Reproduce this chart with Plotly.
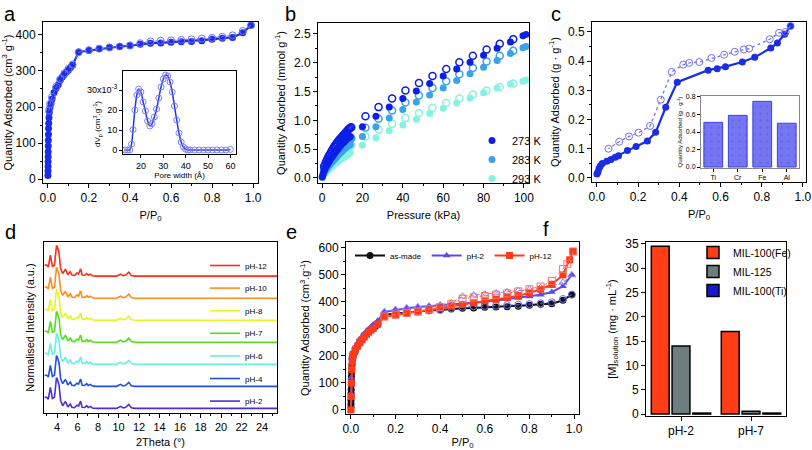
import plotly.graph_objects as go

W, H = 812, 450
FONT = "Arial"

# ---------------- data ----------------
# (a) N2 isotherm, MIL-100(Fe) as-made
a_ads_p = [0.0002,0.0004,0.0006,0.0008,0.001,0.0013,0.0016,0.002,0.0025,0.003,0.004,0.005,0.007,0.01,0.015,
           0.02,0.03,0.04,0.05,0.06,0.07,0.08,0.09,0.10,0.11,0.12,0.15,0.20,0.25,0.30,0.35,0.40,0.45,0.50,
           0.55,0.60,0.65,0.70,0.75,0.80,0.85,0.90,0.95,0.99]
a_ads_q = [10,22,35,48,62,76,92,108,124,140,155,170,185,198,210,222,240,252,262,274,283,290,297,303,310,
           316,353,357,362,366,368,370,374,377,378,380,381,382,384,388,391,393,406,427]
a_des_p = [0.99,0.95,0.90,0.85,0.80,0.75,0.70,0.65,0.60,0.55,0.50,0.45,0.40,0.35,0.30,0.25,0.20,0.15,0.12,
           0.10,0.08,0.06,0.04,0.02,0.01,0.005]
a_des_q = [427,411,399,395,392,390,388,386,385,384,382,377,371,368,365,362,358,352,318,306,293,277,256,228,208,190]
# (a) inset pore size distribution (x1e-3)
psd_w = [13,14,15,15.8,16.5,17.3,18.2,19,20,21,22,23,24,25,26,27,28,29,30,31,32,33,34,35,36,37,38,39,40,41,
         42,44,46,48,50,52,54,56,58,60]
psd_v = [0,0,0,2.9,10.2,20,27.5,30.5,29,24,19.5,14.5,12,13.2,16.5,20.5,26,31.5,35.5,37.5,37,34,29,22,15,
         8.5,4,1.5,0.4,0,0,0,0,0,0,0,0,0,0,0.3]

# (b) CO2 isotherms
b_ads_p = [0.1,0.5,1,1.5,2,2.5,3,3.5,4,4.5,5,5.5,6,6.5,7,7.5,8,8.5,9,9.5,10,10.5,11,11.5,12,12.5,13,13.5,14,
           20,26.7,33.3,40,46.7,53.3,60,66.7,73.3,80,86.7,93.3,99.5,101]
b_des_p = [1,1.5,2,2.5,3,3.5,4,4.5,5,5.5,6,6.5,7,7.5,8,8.5,9,9.5,10,10.5,11,11.5,12,12.5,13,13.5,14,14.5,
           21.5,28,34.7,41.3,48,54.7,61.5,68,74.7,81.5,88,94.7]
b273_ads = [0.02,0.07,0.12,0.16,0.2,0.23,0.26,0.29,0.32,0.345,0.37,0.395,0.42,0.445,0.47,0.49,0.51,0.535,0.56,
            0.58,0.6,0.615,0.63,0.65,0.67,0.685,0.70,0.71,0.72,
            0.89,1.07,1.23,1.38,1.51,1.64,1.77,1.89,2.01,2.13,2.25,2.36,2.47,2.49]
b273_des = [0.2,0.24,0.28,0.32,0.36,0.39,0.42,0.45,0.48,0.51,0.54,0.565,0.59,0.615,0.64,0.66,0.68,0.70,0.72,
            0.74,0.76,0.78,0.80,0.82,0.84,0.855,0.87,0.88,
            1.07,1.23,1.38,1.52,1.65,1.77,1.89,2.01,2.12,2.23,2.33,2.41]
b283_ads = [0.01,0.05,0.09,0.12,0.15,0.17,0.2,0.22,0.24,0.26,0.28,0.30,0.32,0.34,0.36,0.38,0.40,0.42,0.44,
            0.45,0.47,0.49,0.50,0.52,0.53,0.55,0.56,0.57,0.58,
            0.72,0.89,1.04,1.19,1.32,1.44,1.56,1.69,1.81,1.92,2.04,2.16,2.26,2.28]
b283_des = [0.14,0.17,0.2,0.23,0.26,0.28,0.31,0.33,0.36,0.38,0.40,0.42,0.44,0.46,0.48,0.50,0.52,0.54,0.56,
            0.58,0.59,0.61,0.62,0.64,0.65,0.67,0.68,0.69,
            0.87,1.03,1.17,1.31,1.43,1.56,1.68,1.80,1.91,2.02,2.12,2.21]
b293_ads = [0.005,0.03,0.06,0.08,0.10,0.12,0.14,0.16,0.17,0.19,0.20,0.22,0.23,0.25,0.26,0.28,0.29,0.30,0.32,
            0.33,0.34,0.35,0.36,0.37,0.39,0.40,0.41,0.43,0.44,
            0.57,0.70,0.82,0.92,1.02,1.12,1.21,1.30,1.39,1.48,1.56,1.63,1.68,1.70]
b293_des = [0.1,0.13,0.15,0.17,0.19,0.21,0.23,0.25,0.27,0.29,0.31,0.33,0.35,0.36,0.38,0.40,0.42,0.43,0.45,
            0.46,0.48,0.49,0.51,0.52,0.54,0.55,0.56,0.57,
            0.72,0.84,0.94,1.04,1.13,1.22,1.30,1.38,1.45,1.52,1.58,1.64]
b_labels = ["273 K", "283 K", "293 K"]
b_colors = ["#0b1fe6", "#3aa2ea", "#86f2e2"]

# (c) water isotherm
c_ads_p = [0.0,0.005,0.01,0.016,0.026,0.048,0.068,0.089,0.105,0.148,0.19,0.245,0.285,0.334,0.39,0.54,0.584,
           0.624,0.706,0.766,0.844,0.876,0.911,0.94]
c_ads_q = [0.013,0.02,0.032,0.041,0.049,0.057,0.063,0.071,0.076,0.094,0.108,0.126,0.156,0.242,0.328,0.369,
           0.374,0.381,0.397,0.413,0.445,0.462,0.492,0.52]
c_des_p = [0.94,0.916,0.884,0.839,0.739,0.713,0.669,0.618,0.556,0.497,0.448,0.419,0.363,0.31,0.258,0.202,
           0.156,0.108,0.056]
c_des_q = [0.52,0.50,0.497,0.475,0.443,0.44,0.432,0.422,0.411,0.397,0.394,0.388,0.363,0.268,0.178,0.155,
           0.142,0.124,0.10]
c_metals = ["Ti", "Cr", "Fe", "Al"]
c_uptake = [0.51, 0.59, 0.75, 0.50]

# (d) PXRD
pxrd_2theta = [2.8,3.0,3.15,3.35,3.55,3.75,3.95,4.05,4.2,4.35,4.55,4.8,4.9,5.05,5.3,5.45,5.7,5.95,6.1,6.3,
               6.45,6.7,6.9,7.05,7.25,7.45,7.8,9.8,10.2,10.45,10.7,11.0,11.25,11.6,16.0,20.0,25.5]
pxrd_profile = [0.5,0.5,0.42,0.95,0.45,0.5,1.4,1.3,1.05,0.35,0.12,0.3,0.25,0.06,0.2,0.05,0.03,0.14,0.1,0.33,
                0.05,0.04,0.12,0.04,0.09,0.02,0.0,0.0,0.09,0.02,0.05,0.18,0.03,0.0,0.0,0.01,0.0]
pxrd_labels = ["pH-2", "pH-4", "pH-6", "pH-7", "pH-8", "pH-10", "pH-12"]
pxrd_offsets = [0, 1, 2, 3, 4, 5, 6]
pxrd_colors = ["#4a2fd8", "#1f4ee8", "#62f2e0", "#4fe01c", "#e6f51c", "#ff8c1c", "#ff2b18"]

# (e) N2 isotherms after pH treatment
e2_ads_p = [0.0,0.001,0.002,0.004,0.006,0.008,0.01,0.02,0.03,0.04,0.05,0.06,0.07,0.08,0.09,0.10,0.12,0.15,0.20,
            0.25,0.30,0.35,0.40,0.45,0.50,0.55,0.60,0.65,0.70,0.75,0.80,0.85,0.90,0.95,0.99]
e2_ads_q = [0,60,120,170,195,205,212,230,245,258,270,282,292,300,308,316,330,363,371,377,381,384,387,390,393,
            397,401,405,410,415,420,427,437,458,500]
e2_des_p = [0.99,0.95,0.90,0.85,0.80,0.75,0.70,0.65,0.60,0.55,0.50,0.45,0.40,0.35,0.30,0.25,0.20,0.15]
e2_des_q = [500,472,460,453,447,442,437,433,429,425,421,396,389,385,382,378,372,364]
e12_ads_p = [0.0,0.001,0.002,0.004,0.006,0.008,0.01,0.02,0.03,0.04,0.05,0.06,0.07,0.08,0.09,0.10,0.12,0.15,0.20,
             0.25,0.30,0.35,0.40,0.45,0.50,0.55,0.60,0.65,0.70,0.75,0.80,0.85,0.90,0.95,0.98,0.995]
e12_ads_q = [0,50,100,150,180,195,205,222,236,249,260,270,280,288,296,302,318,345,352,358,363,370,377,384,390,
             397,404,410,416,423,433,447,465,500,556,587]
e12_des_p = [0.995,0.97,0.95,0.90,0.85,0.80,0.75,0.70,0.65,0.60,0.55,0.50,0.45,0.40,0.35,0.30,0.25,0.20,0.15]
e12_des_q = [587,540,522,478,457,447,439,432,427,422,417,412,393,381,373,365,359,353,346]

# (f) metal leaching
f_conditions = ["pH-2", "pH-7"]
f_series = ["MIL-100(Fe)", "MIL-125", "MIL-100(Ti)"]
f_values = [[34.5, 17.0], [14.0, 0.6], [0.2, 0.2]]
f_colors = ["#ff3d17", "#6e7e80", "#1a1acc"]

# ---------------- layout helpers ----------------
def dx(l, r):
    return [l / W, r / W]

def dy(t, b):
    return [1 - b / H, 1 - t / H]

def ax(domain, rng, anchor, **kw):
    d = dict(domain=domain, range=rng, anchor=anchor, showline=True, linecolor="black", linewidth=1,
             mirror=True, ticks="outside", ticklen=4, tickwidth=1, tickcolor="black", showgrid=False,
             zeroline=False, automargin=False, tickfont=dict(family=FONT, size=12, color="black"),
             title=dict(font=dict(family=FONT, size=11, color="black")))
    for k, v in kw.items():
        if k == "title":
            d["title"].update(v)
        elif k == "tickfont":
            d["tickfont"].update(v)
        else:
            d[k] = v
    return d

fig = go.Figure()
BLUE = "#1b2de6"
BLUE_L = "#6f70f2"

# (a)
fig.add_trace(go.Scatter(x=a_ads_p, y=a_ads_q, mode="lines+markers", xaxis="x", yaxis="y", showlegend=False,
                         line=dict(color=BLUE, width=2.2), marker=dict(color=BLUE, size=7)))
fig.add_trace(go.Scatter(x=a_des_p, y=a_des_q, mode="lines+markers", xaxis="x", yaxis="y", showlegend=False,
                         line=dict(color=BLUE_L, width=1, dash="dot"),
                         marker=dict(symbol="circle-open", color=BLUE_L, size=7, line=dict(width=1))))
fig.add_trace(go.Scatter(x=psd_w, y=psd_v, mode="lines+markers", xaxis="x2", yaxis="y2", showlegend=False,
                         line=dict(color="#2136e6", width=1.5, shape="spline"),
                         marker=dict(symbol="circle-open", color="#7d80f2", size=6, line=dict(width=1))))

# (b)
b_ads = [b273_ads, b283_ads, b293_ads]
b_des = [b273_des, b283_des, b293_des]
for i in [2, 1, 0]:
    fig.add_trace(go.Scatter(x=b_des_p, y=b_des[i], mode="markers", xaxis="x3", yaxis="y3", showlegend=False,
                             marker=dict(symbol="circle-open", color=b_colors[i], size=7, line=dict(width=1.5))))
for i in [2, 1, 0]:
    fig.add_trace(go.Scatter(x=b_ads_p, y=b_ads[i], mode="markers", xaxis="x3", yaxis="y3", name=b_labels[i],
                             legend="legend", legendrank=i + 1,
                             marker=dict(color=b_colors[i], size=7, line=dict(width=0))))

# (c)
fig.add_trace(go.Scatter(x=c_ads_p, y=c_ads_q, mode="lines+markers", xaxis="x4", yaxis="y4", showlegend=False,
                         line=dict(color=BLUE, width=2.2), marker=dict(color=BLUE, size=7)))
fig.add_trace(go.Scatter(x=c_des_p, y=c_des_q, mode="lines+markers", xaxis="x4", yaxis="y4", showlegend=False,
                         line=dict(color=BLUE_L, width=1.3, dash="dot"),
                         marker=dict(symbol="circle-open", color=BLUE_L, size=7, line=dict(width=1))))
fig.add_trace(go.Bar(x=c_metals, y=c_uptake, xaxis="x5", yaxis="y5", showlegend=False,
                     marker=dict(color="#7676f2", line=dict(color="#3f3fe0", width=1),
                                 pattern=dict(shape=".", fgcolor="#5656dc", size=7, solidity=0.1,
                                              fillmode="overlay"))))

# (d)
for lab, off, col in zip(pxrd_labels, pxrd_offsets, pxrd_colors):
    fig.add_trace(go.Scatter(x=pxrd_2theta, y=[v + off for v in pxrd_profile], mode="lines",
                             xaxis="x6", yaxis="y6", name=lab, legend="legend4", legendgroup=lab,
                             legendrank=100 - off, line=dict(color=col, width=1.6)))

# (e)
e_sets = [
    ("as-made", a_ads_p, a_ads_q, a_des_p, a_des_q, "#111111", "circle", BLUE_L, "circle-open"),
    ("pH-2", e2_ads_p, e2_ads_q, e2_des_p, e2_des_q, "#5a4ae8", "triangle-up", "#8a80f0", "triangle-up-open"),
    ("pH-12", e12_ads_p, e12_ads_q, e12_des_p, e12_des_q, "#ff3a1c", "square", "#ff7058", "square-open"),
]
for name, ap, aq, dp, dq, col, sym, dcol, dsym in e_sets:
    fig.add_trace(go.Scatter(x=ap, y=aq, mode="lines+markers", xaxis="x7", yaxis="y7", name=name,
                             legend="legend2", line=dict(color=col, width=2),
                             marker=dict(color=col, symbol=sym, size=7)))
    fig.add_trace(go.Scatter(x=dp, y=dq, mode="lines+markers", xaxis="x7", yaxis="y7", showlegend=False,
                             line=dict(color=dcol, width=1, dash="dot"),
                             marker=dict(color=dcol, symbol=dsym, size=7, line=dict(width=1))))

# (f)
for name, vals, col in zip(f_series, f_values, f_colors):
    fig.add_trace(go.Bar(x=f_conditions, y=vals, name=name, xaxis="x8", yaxis="y8", legend="legend3",
                         marker=dict(color=col, line=dict(color="black", width=1.5))))

layout = dict(
    width=W, height=H, margin=dict(l=0, r=0, t=0, b=0), template="none",
    paper_bgcolor="white", plot_bgcolor="white", font=dict(family=FONT, color="black"),
    barmode="group", bargap=0.11, bargroupgap=0.14,
    # (a)
    xaxis=ax(dx(43, 258), [-0.024, 1.024], "y", dtick=0.2, tickformat=".1f",
             minor=dict(dtick=0.1, ticklen=2, ticks="outside"),
             title=dict(text="P/P<sub>0</sub>", standoff=6)),
    yaxis=ax(dy(22, 183), [-11, 436], "x", dtick=100, minor=dict(dtick=50, ticklen=2, ticks="outside"),
             title=dict(text="Quantity Adsorbed (cm<sup>3</sup> g<sup>-1</sup>)", standoff=6)),
    xaxis2=ax(dx(123, 236), [12, 62.5], "y2", dtick=10, tickvals=[20, 30, 40, 50, 60], ticklen=3,
              tickfont=dict(size=9), title=dict(text="Pore width (Å)", font=dict(size=8), standoff=2)),
    yaxis2=ax(dy(71, 154), [-2, 39.5], "x2", tickvals=[0, 10, 20, 30], ticklen=3,
              ticktext=["0", "10", "20", "30x10<sup>-3</sup>"], tickfont=dict(size=9)),
    # (b)
    xaxis3=ax(dx(318, 529), [-2, 102.5], "y3", dtick=20, minor=dict(dtick=10, ticklen=2, ticks="outside"),
              title=dict(text="Pressure (kPa)", standoff=6)),
    yaxis3=ax(dy(23, 183), [-0.087, 2.69], "x3", dtick=0.5, tickformat=".1f",
              minor=dict(dtick=0.25, ticklen=2, ticks="outside"),
              title=dict(text="Quantity Adsorbed (mmol g<sup>-1</sup>)", standoff=6)),
    # (c)
    xaxis4=ax(dx(592, 806), [-0.024, 1.015], "y4", dtick=0.2, tickformat=".1f",
              minor=dict(dtick=0.1, ticklen=2, ticks="outside"),
              title=dict(text="P/P<sub>0</sub>", standoff=6)),
    yaxis4=ax(dy(22, 182), [-0.014, 0.534], "x4", dtick=0.1, tickformat=".1f",
              minor=dict(dtick=0.05, ticklen=2, ticks="outside"),
              title=dict(text="Quantity Adsorbed (g · g<sup>-1</sup>)", standoff=6)),
    xaxis5=ax(dx(701, 799), [-0.5, 3.5], "y5", type="category", ticklen=3, tickfont=dict(size=7),
              linecolor="#888888"),
    yaxis5=ax(dy(96, 168), [-0.011, 0.811], "x5", dtick=0.2, tickformat=".1f", ticklen=3,
              tickfont=dict(size=7), linecolor="#888888",
              title=dict(text="Quantity Adsorbed (g · g<sup>-1</sup>)", font=dict(size=6), standoff=2)),
    # (d)
    xaxis6=ax(dx(44, 277), [2.73, 25.46], "y6", tick0=4, dtick=2, tickfont=dict(size=11),
              minor=dict(dtick=1, ticklen=2, ticks="outside"),
              title=dict(text="2Theta (°)", standoff=6)),
    yaxis6=ax(dy(242, 413), [-0.21, 7.55], "x6", showticklabels=False, ticks="",
              title=dict(text="Normalised Intensity (a.u.)", standoff=6)),
    # (e)
    xaxis7=ax(dx(346, 579), [-0.022, 1.022], "y7", dtick=0.2, tickformat=".1f",
              minor=dict(dtick=0.1, ticklen=2, ticks="outside"),
              title=dict(text="P/P<sub>0</sub>", standoff=6)),
    yaxis7=ax(dy(242, 414), [-15, 622], "x7", dtick=100, minor=dict(dtick=50, ticklen=2, ticks="outside"),
              title=dict(text="Quantity Adsorbed (cm<sup>3</sup>.g<sup>-1</sup>)", standoff=6)),
    # (f)
    xaxis8=ax(dx(646, 786), [-0.5, 1.5], "y8", type="category", tickfont=dict(size=12)),
    yaxis8=ax(dy(242, 416), [-0.4, 35.4], "x8", dtick=5, tickfont=dict(size=12),
              title=dict(text="[M]<sub>solution</sub> (mg · mL<sup>-1</sup>)", standoff=6)),
    legend=dict(x=472 / W, y=1 - 126 / H, xanchor="left", yanchor="top", bgcolor="rgba(0,0,0,0)",
                font=dict(family=FONT, size=11), itemsizing="trace", tracegroupgap=0),
    legend2=dict(x=350 / W, y=1 - 241 / H, xanchor="left", yanchor="top", orientation="h",
                 bgcolor="rgba(0,0,0,0)", font=dict(family=FONT, size=8), itemwidth=30),
    legend3=dict(x=693 / W, y=1 - 238 / H, xanchor="left", yanchor="top", bgcolor="rgba(0,0,0,0)",
                 font=dict(family=FONT, size=10.5)),
    legend4=dict(x=205 / W, y=1 - 251 / H, xanchor="left", yanchor="top", bgcolor="rgba(0,0,0,0)",
                 font=dict(family=FONT, size=8), traceorder="grouped", tracegroupgap=3.6,
                 itemwidth=30),
)
fig.update_layout(**layout)

# inset (a) y-axis title placed below the long top tick label, as in the source figure
fig.add_annotation(text="dV<sub>p</sub> (cm<sup>3</sup>.g<sup>-1</sup>)", x=97 / W, y=1 - 124 / H,
                   xref="paper", yref="paper", showarrow=False, textangle=-90,
                   font=dict(family=FONT, size=8, color="black"), xanchor="center", yanchor="middle")

letters = [("a", 10, 14), ("b", 290, 14), ("c", 556, 14), ("d", 10, 232), ("e", 291, 232), ("f", 546, 229)]
for t, x, y in letters:
    fig.add_annotation(text=t, x=x / W, y=1 - y / H, xref="paper", yref="paper", showarrow=False,
                       font=dict(family=FONT, size=20, color="black"), xanchor="center", yanchor="middle")

fig.write_html("out.html")
